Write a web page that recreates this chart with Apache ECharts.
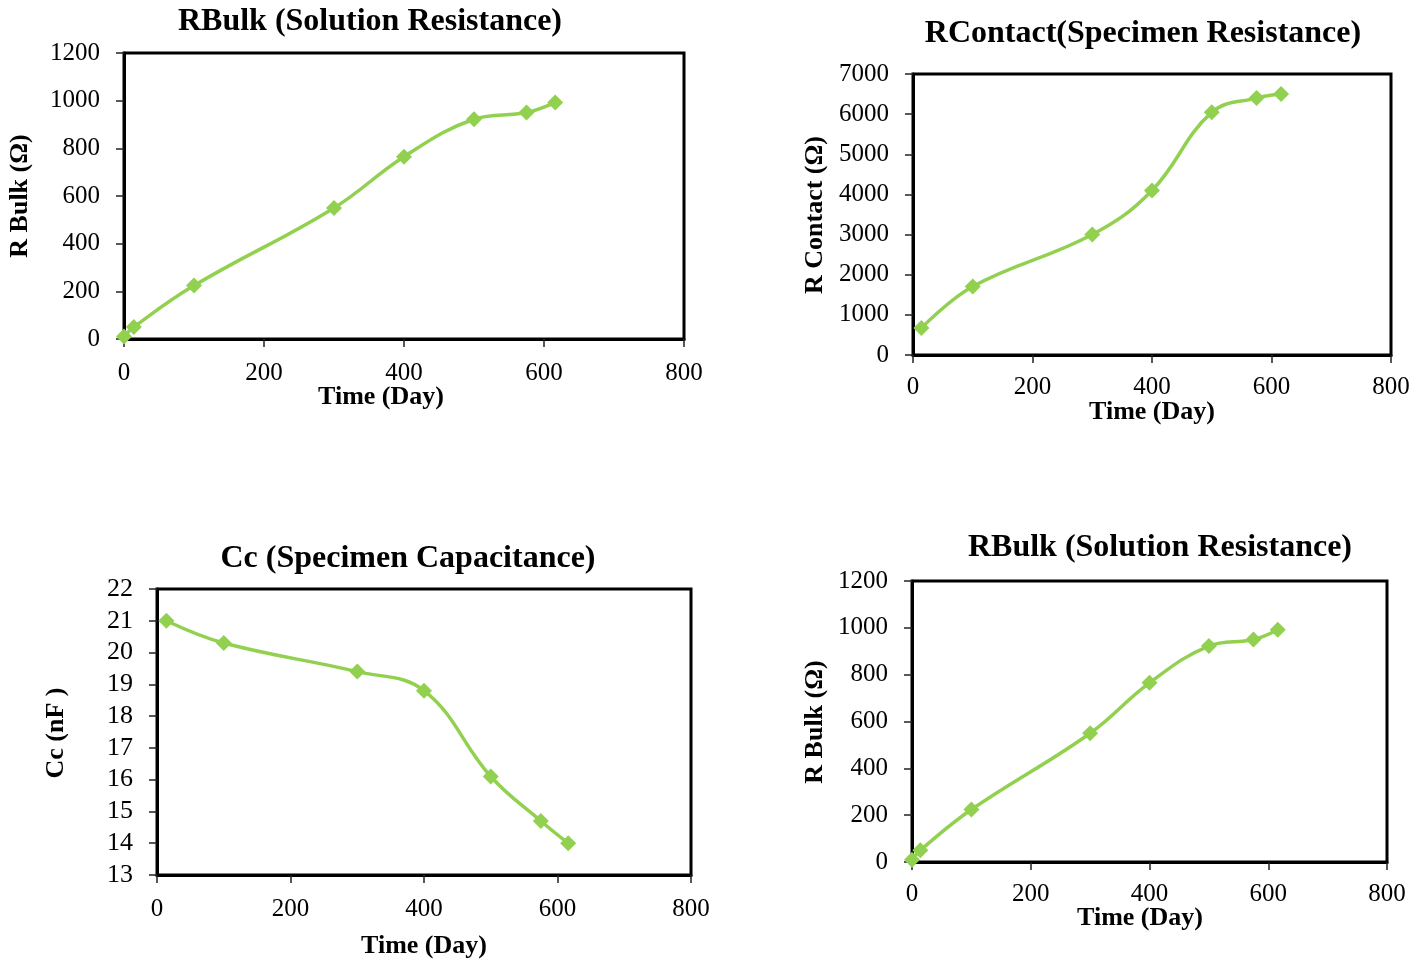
<!DOCTYPE html>
<html>
<head>
<meta charset="utf-8">
<script src="https://cdn.jsdelivr.net/npm/echarts@6/dist/echarts.min.js"></script>
<style>
  html, body { margin: 0; padding: 0; background: #fff; }
  #chart { width: 1426px; height: 962px; }
</style>
</head>
<body>
<div id="chart"></div>
<script>
// values
const rbulkDays = [0, 14, 100, 300, 400, 500, 575, 616];
const rbulkValues = [10, 50, 224, 550, 765, 922, 950, 992];
const rcontactDays = [14, 100, 300, 400, 500, 575, 616];
const rcontactValues = [670, 1705, 3000, 4100, 6045, 6400, 6500];
const ccDays = [14, 100, 300, 400, 500, 575, 616];
const ccValues = [21.0, 20.3, 19.4, 18.8, 16.1, 14.7, 14.0];

const GREEN = '#92D050';
const SERIF = '"Liberation Serif", "DejaVu Serif", serif';

const chart = echarts.init(document.getElementById('chart'), null, { renderer: 'canvas' });

const pair = (xs, ys) => xs.map((x, i) => [x, ys[i]]);

const grids = [
  { left: 124, top: 53, width: 560, height: 286 },
  { left: 913, top: 74, width: 478, height: 281 },
  { left: 157, top: 589, width: 534, height: 286 },
  { left: 912, top: 581, width: 475, height: 281 },
];

const axisCommon = {
  axisLine: { lineStyle: { color: '#000', width: 3 } },
  axisTick: { show: true, inside: false, length: 8, lineStyle: { color: '#222', width: 1.5 } },
  splitLine: { show: false },
  axisLabel: { color: '#000', fontFamily: SERIF, fontSize: 25, formatter: v => String(v) },
};

const xMargins = [22, 20, 22, 20];
const xAxes = grids.map((g, i) => ({
  ...axisCommon,
  type: 'value',
  gridIndex: i,
  min: 0, max: 800, interval: 200,
  axisLabel: { ...axisCommon.axisLabel, margin: xMargins[i] },
}));

const yRanges = [
  { min: 0, max: 1200, interval: 200 },
  { min: 0, max: 7000, interval: 1000 },
  { min: 13, max: 22, interval: 1 },
  { min: 0, max: 1200, interval: 200 },
];

const yAxes = yRanges.map((r, i) => ({
  ...axisCommon,
  type: 'value',
  gridIndex: i,
  ...r,
  axisLabel: { ...axisCommon.axisLabel, margin: 24, fontSize: i === 2 ? 26 : 25 },
}));

const datasets = [
  pair(rbulkDays, rbulkValues),
  pair(rcontactDays, rcontactValues),
  pair(ccDays, ccValues),
  pair(rbulkDays, rbulkValues),
];

const series = datasets.map((d, i) => ({
  type: 'line',
  xAxisIndex: i,
  yAxisIndex: i,
  data: d,
  smooth: 0.4,
  clip: false,
  symbol: 'diamond',
  symbolSize: 16,
  lineStyle: { color: GREEN, width: 3.5 },
  itemStyle: { color: GREEN },
}));

const text = (str, x, y, size, rot) => ({
  type: 'text',
  x, y,
  rotation: rot || 0,
  style: {
    text: str,
    font: 'bold ' + size + 'px ' + SERIF,
    fill: '#000',
    textAlign: 'center',
    textVerticalAlign: 'middle',
  },
});

const labels = [
  text('RBulk (Solution Resistance)', 370, 22, 32),
  text('RContact(Specimen Resistance)', 1143, 34, 32),
  text('Cc (Specimen Capacitance)', 408, 559, 32),
  text('RBulk (Solution Resistance)', 1160, 548, 32),
  text('Time (Day)', 381, 397, 26),
  text('Time (Day)', 1152, 412, 26),
  text('Time (Day)', 424, 946, 26),
  text('Time (Day)', 1140, 918, 26),
  text('R Bulk (Ω)', 20, 196, 26, Math.PI / 2),
  text('R Contact (Ω)', 815, 215, 26, Math.PI / 2),
  text('Cc (nF )', 56, 733, 26, Math.PI / 2),
  text('R Bulk (Ω)', 815, 722, 26, Math.PI / 2),
];

chart.setOption({
  backgroundColor: '#fff',
  animation: false,
  grid: grids.map(g => ({ ...g, show: true, borderColor: '#000', borderWidth: 3, backgroundColor: 'transparent' })),
  xAxis: xAxes,
  yAxis: yAxes,
  series,
  graphic: labels,
});
</script>
</body>
</html>
